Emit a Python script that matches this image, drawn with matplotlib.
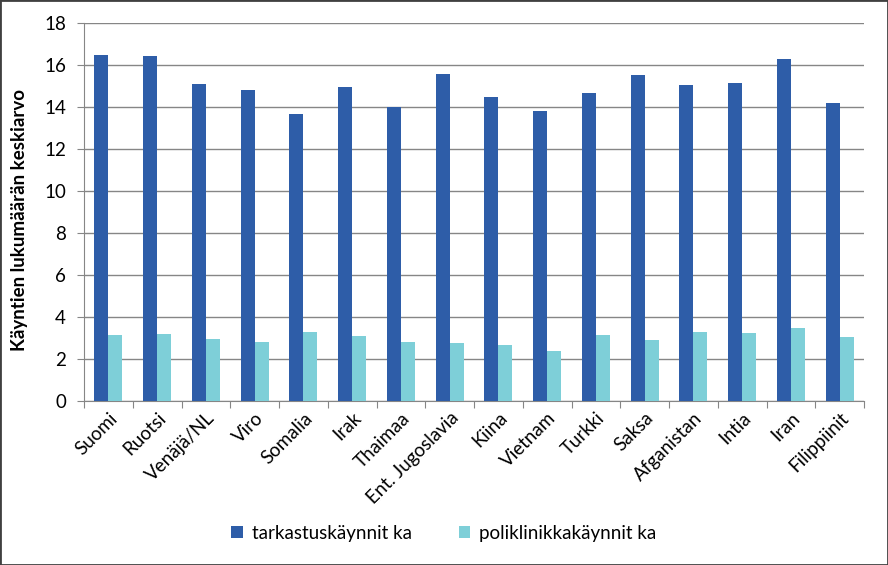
import matplotlib
matplotlib.use("Agg")
import matplotlib.pyplot as plt
import numpy as np
from matplotlib.patches import Rectangle

categories = ["Suomi", "Ruotsi", "Venäjä/NL", "Viro", "Somalia", "Irak", "Thaimaa",
              "Ent. Jugoslavia", "Kiina", "Vietnam", "Turkki", "Saksa", "Afganistan",
              "Intia", "Iran", "Filippiinit"]
tarkastus = [16.49, 16.45, 15.09, 14.8, 13.66, 14.95, 14.0, 15.57,
             14.47, 13.8, 14.66, 15.52, 15.04, 15.14, 16.29, 14.18]
poliklinikka = [3.13, 3.18, 2.94, 2.83, 3.28, 3.08, 2.83, 2.78,
                2.65, 2.4, 3.13, 2.89, 3.28, 3.23, 3.47, 3.04]
series_names = ["tarkastuskäynnit ka", "poliklinikkakäynnit ka"]
yticks = list(range(0, 19, 2))

plt.rcParams['font.family'] = ['Lato', 'DejaVu Sans']

fig = plt.figure(figsize=(8.88, 5.65), dpi=100)
ax = fig.add_axes([84/888, 1-401/565, (864-84)/888, (401-23)/565])

x = np.arange(len(categories))
w = 0.287
dark = '#2E5DA8'
light = '#7ECFD8'
b1 = ax.bar(x - w/2, tarkastus, w, color=dark, label=series_names[0], zorder=3)
b2 = ax.bar(x + w/2, poliklinikka, w, color=light, label=series_names[1], zorder=3)

ax.set_xlim(-0.5, len(categories) - 0.5)
ax.set_ylim(0, 18)
ax.set_yticks(yticks)
ax.set_yticklabels([str(v) for v in yticks], fontsize=13.5)
ax.yaxis.grid(True, color='#868686', linewidth=1, zorder=0)
ax.set_axisbelow(True)

ax.set_xticks(np.arange(len(categories) + 1) - 0.5, minor=False)
ax.set_xticklabels([])
ax.set_xticks(x, minor=True)
ax.set_xticklabels(categories, minor=True, rotation=45, ha='right',
                   rotation_mode='anchor', fontsize=13.5)
ax.tick_params(axis='x', which='minor', length=0, pad=6)
ax.tick_params(axis='x', which='major', length=5, color='#868686', direction='out')
ax.tick_params(axis='y', length=5, color='#868686', direction='out', pad=8)

for s in ['top', 'right']:
    ax.spines[s].set_visible(False)
ax.spines['left'].set_color('#868686')
ax.spines['bottom'].set_color('#868686')

ax.set_ylabel("Käyntien lukumäärän keskiarvo", fontsize=13.5, fontweight='bold')
ax.yaxis.set_label_coords(-0.072, 0.48)

fig.legend(handles=[b1, b2], labels=series_names, loc='center',
           bbox_to_anchor=(0.5, 1-533/565), ncol=2, frameon=False,
           fontsize=13.5, handlelength=0.6, handleheight=0.6, columnspacing=2.5,
           handletextpad=0.5)

fig.patches.append(Rectangle((0, 0), 1, 1, transform=fig.transFigure, fill=False,
                             edgecolor='#404040', linewidth=2))

fig.savefig("out.png", dpi=100)
